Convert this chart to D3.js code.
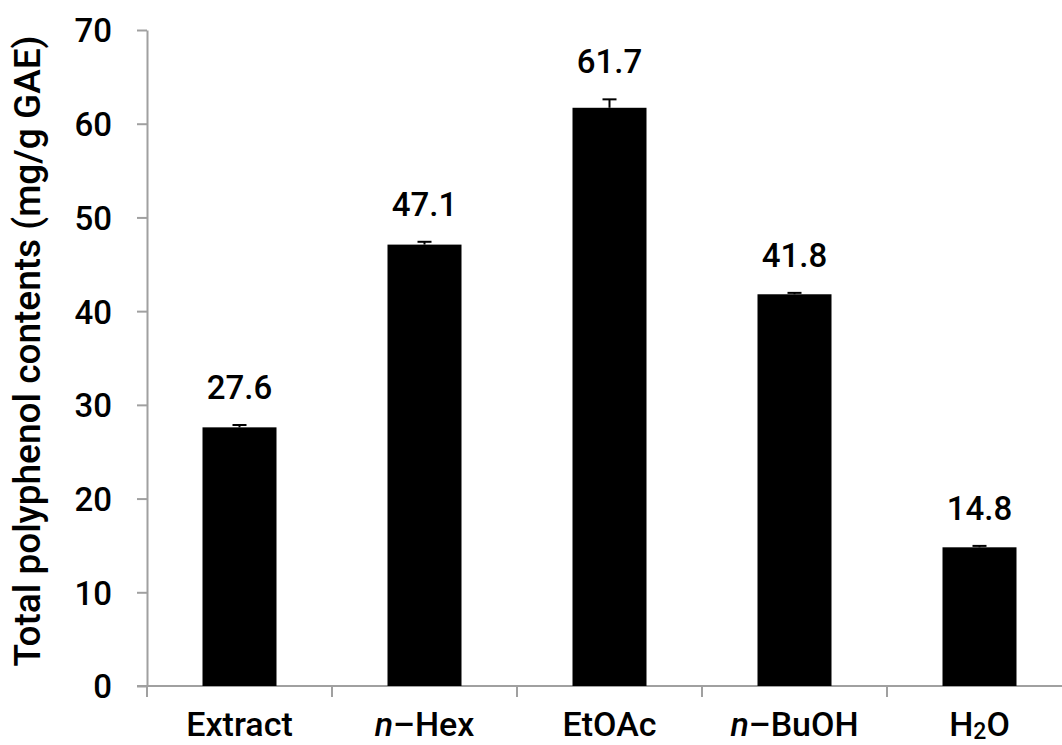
<!DOCTYPE html>
<html>
<head>
<meta charset="utf-8">
<script src="https://cdn.jsdelivr.net/npm/d3@7"></script>
<style>
  body { margin: 0; background: #fff; }
  text { font-family: Roboto, "Noto Sans", sans-serif; fill: #000; }
</style>
</head>
<body>
<div id="container"></div>
<script>
/* CONSTANTS AND GLOBALS */
const width = 1062,
  height = 745,
  margin = { top: 30, bottom: 59, left: 147, right: -10 }

// data
const categories = ["Extract", "n-Hex", "EtOAc", "n-BuOH", "H2O"]
const values = [27.6, 47.1, 61.7, 41.8, 14.8]
const errors = [0.25, 0.3, 0.9, 0.15, 0.15]
const yTicks = [0, 10, 20, 30, 40, 50, 60, 70]

const data = categories.map((c, i) => ({ cat: c, value: values[i], err: errors[i] }))

// + SCALES
const xScale = d3.scaleBand()
  .domain(categories)
  .range([margin.left, width - margin.right])
  .paddingInner(0.6)
  .paddingOuter(0.3)

const yScale = d3.scaleLinear()
  .domain([0, 70])
  .range([height - margin.bottom, margin.top])

// CREATE SVG ELEMENT
const svg = d3.select("#container")
  .append("svg")
  .attr("width", width)
  .attr("height", height)

const axisColor = "#a0a0a0"

// Y AXIS
const yAxisGroup = svg.append("g")
  .attr("class", "yAxis")
  .attr("transform", `translate(${margin.left}, 0)`)
  .call(d3.axisLeft(yScale).tickValues(yTicks).tickSize(10).tickSizeOuter(0).tickPadding(25))

yAxisGroup.select(".domain").attr("stroke", axisColor).attr("stroke-width", 2)
yAxisGroup.selectAll(".tick line").attr("stroke", axisColor).attr("stroke-width", 2)
yAxisGroup.selectAll(".tick text")
  .style("font-size", "33px")
  .style("font-weight", 500)
  .attr("dy", "0.36em")

svg.append("text")
  .attr("transform", "rotate(-90)")
  .attr("x", -351)
  .attr("y", 40)
  .style("text-anchor", "middle")
  .style("font-size", "37px")
  .style("font-weight", 500)
  .text("Total polyphenol contents (mg/g GAE)")

// X AXIS (ticks sit between categories)
const step = xScale.step()
const gap = step - xScale.bandwidth()
const bounds = categories.map(c => xScale(c) - gap / 2).concat([xScale(categories[4]) + xScale.bandwidth() + gap / 2])

const xAxisGroup = svg.append("g").attr("class", "xAxis")
xAxisGroup.append("line")
  .attr("x1", margin.left - 10)
  .attr("x2", width + 20)
  .attr("y1", yScale(0))
  .attr("y2", yScale(0))
  .attr("stroke", axisColor)
  .attr("stroke-width", 2)

xAxisGroup.selectAll(".xtick")
  .data(bounds)
  .join("line")
  .attr("class", "xtick")
  .attr("x1", d => d)
  .attr("x2", d => d)
  .attr("y1", yScale(0))
  .attr("y2", yScale(0) + 11)
  .attr("stroke", axisColor)
  .attr("stroke-width", 2)

// category labels with italic n and subscript 2
const xLabels = xAxisGroup.selectAll(".xlabel")
  .data(categories)
  .join("text")
  .attr("class", "xlabel")
  .attr("x", d => xScale(d) + xScale.bandwidth() / 2)
  .attr("y", yScale(0) + 50)
  .style("text-anchor", "middle")
  .style("font-size", "34px")
  .style("font-weight", 500)

xLabels.each(function (d) {
  const t = d3.select(this)
  if (d.startsWith("n-")) {
    t.append("tspan").style("font-style", "italic").text("n")
    t.append("tspan").text("\u2013" + d.slice(2))
  } else if (d === "H2O") {
    t.append("tspan").text("H")
    t.append("tspan").attr("dy", 3).style("font-size", "23px").text("2")
    t.append("tspan").attr("dy", -3).text("O")
  } else {
    t.text(d)
  }
})

// DRAW BARS
svg.selectAll(".bar")
  .data(data)
  .join("rect")
  .attr("class", "bar")
  .attr("x", d => xScale(d.cat))
  .attr("width", xScale.bandwidth())
  .attr("y", d => yScale(d.value))
  .attr("height", d => yScale(0) - yScale(d.value))
  .attr("fill", "#000")

// ERROR BARS
const eb = svg.selectAll(".err")
  .data(data)
  .join("g")
  .attr("class", "err")
  .attr("transform", d => `translate(${xScale(d.cat) + xScale.bandwidth() / 2}, 0)`)

eb.append("line")
  .attr("x1", 0).attr("x2", 0)
  .attr("y1", d => yScale(d.value))
  .attr("y2", d => yScale(d.value + d.err))
  .attr("stroke", "#000")
  .attr("stroke-width", 2)

eb.append("line")
  .attr("x1", -7).attr("x2", 7)
  .attr("y1", d => yScale(d.value + d.err))
  .attr("y2", d => yScale(d.value + d.err))
  .attr("stroke", "#000")
  .attr("stroke-width", 2)

// VALUE LABELS
svg.selectAll(".vlabel")
  .data(data)
  .join("text")
  .attr("class", "vlabel")
  .attr("x", d => xScale(d.cat) + xScale.bandwidth() / 2)
  .attr("y", d => yScale(d.value + d.err) - 26)
  .style("text-anchor", "middle")
  .style("font-size", "33px")
  .style("font-weight", 500)
  .text(d => d3.format(".1f")(d.value))
</script>
</body>
</html>
